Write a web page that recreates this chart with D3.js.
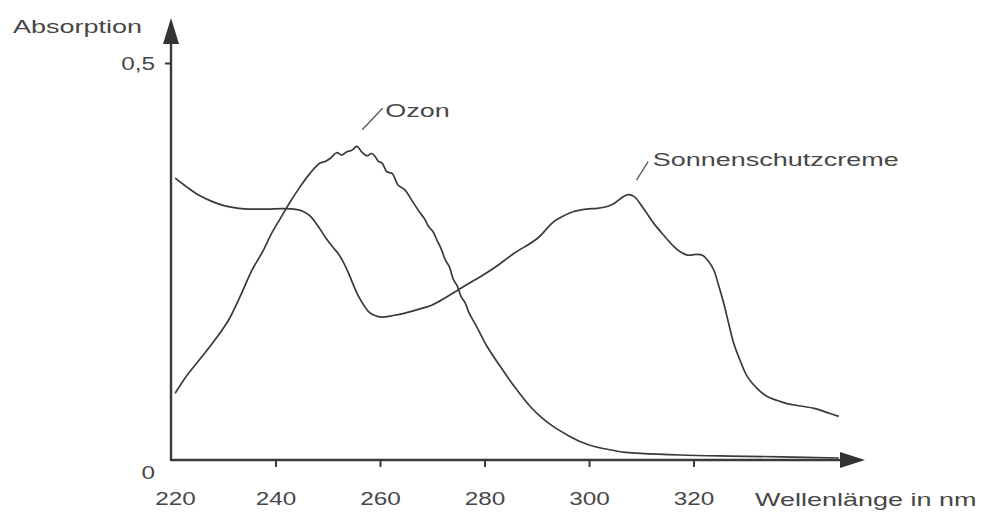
<!DOCTYPE html>
<html>
<head>
<meta charset="utf-8">
<script src="https://cdn.jsdelivr.net/npm/d3@7"></script>
<style>
  html, body { margin: 0; padding: 0; background: #fff; }
  svg { display: block; }
  text { font-family: Arial, "Liberation Sans", Helvetica, sans-serif; fill: #474747; }
</style>
</head>
<body>
<svg id="chart" width="987" height="515"></svg>
<script>
// Wavelength in nm, absorption (dimensionless)
const ozonNm = [220.8, 223, 225.9, 228.5, 231, 233.3, 235.5, 237.5, 239.3, 241, 242.8, 244.7, 246.6, 248.5, 249.5,
  250.5, 251.7, 252.7, 253.6, 254.6, 255.6, 256.5, 257.5, 258.4, 259.1, 259.7, 260.4, 261.3, 262.3, 263.5,
  264.8, 266.1, 267.7, 268.5, 269.3, 270.1, 270.9, 271.7, 272.5, 273.3, 274, 274.8, 275.5, 276.3, 277, 278.5,
  280.5, 283, 286, 288.8, 291, 293.2, 296, 298.4, 301, 303.5, 306.5, 309.8, 317.5, 327, 337, 347.8];
const ozonAbs = [0.084, 0.106, 0.130, 0.152, 0.176, 0.207, 0.239, 0.262, 0.286, 0.305, 0.325, 0.344, 0.361, 0.374, 0.376,
  0.380, 0.387, 0.384, 0.388, 0.390, 0.395, 0.388, 0.383, 0.386, 0.382, 0.376, 0.374, 0.363, 0.361, 0.346,
  0.340, 0.327, 0.311, 0.304, 0.294, 0.288, 0.277, 0.266, 0.252, 0.243, 0.228, 0.219, 0.206, 0.198, 0.186, 0.168,
  0.143, 0.118, 0.090, 0.067, 0.053, 0.042, 0.031, 0.023, 0.017, 0.0135, 0.010, 0.0084, 0.0063, 0.005, 0.004, 0.0025];

const cremeNm = [220.8, 223, 225.2, 227.7, 230.3, 233, 235.5, 238.5, 241.2, 243.5, 245, 246.5, 248, 249.5, 251,
  252, 253, 254, 255, 255.9, 256.9, 257.8, 259, 260.4, 262.5, 264.8, 267.5, 269.9, 272.2, 274.4,
  276.4, 278.2, 280.2, 282.1, 285.6, 290.1, 293.2, 295, 297.1, 299.5, 301.6, 303.3, 304.8, 306.2, 307.3,
  308.6, 310.5, 312.4, 314.3, 316.2, 317.5, 318.8, 320.5, 321.7, 322.9, 323.9, 324.8, 325.8, 326.8, 327.7,
  329, 330.3, 332.2, 334.1, 336, 337.9, 340.5, 343.1, 345.5, 347.8];
const cremeAbs = [0.355, 0.344, 0.334, 0.326, 0.320, 0.317, 0.316, 0.316, 0.3165, 0.316, 0.314, 0.308, 0.296, 0.281, 0.268,
  0.260, 0.249, 0.235, 0.219, 0.206, 0.195, 0.187, 0.182, 0.180, 0.182, 0.185, 0.190, 0.195, 0.203, 0.212,
  0.220, 0.227, 0.235, 0.243, 0.260, 0.279, 0.300, 0.307, 0.313, 0.316, 0.317, 0.319, 0.323, 0.330, 0.334,
  0.332, 0.316, 0.298, 0.283, 0.269, 0.262, 0.258, 0.259, 0.258, 0.250, 0.239, 0.220, 0.197, 0.170, 0.147,
  0.124, 0.105, 0.090, 0.080, 0.075, 0.071, 0.068, 0.065, 0.060, 0.055];

const xTicks = [220, 240, 260, 280, 300, 320];
const yTicks = [0, 0.5];

const yTitle = "Absorption";
const xTitle = "Wellenlänge in nm";
const seriesLabels = ["Ozon", "Sonnenschutzcreme"];

// ---------------------------------------------------------------
const svg = d3.select("#chart");
const ink = "#3a3a3a";
const textScaleX = 1.42;   // wide lettering
const numScaleX = 1.28;

const x = d3.scaleLinear().domain([220, 320]).range([171, 693.5]);
const y = d3.scaleLinear().domain([0, 0.5]).range([460, 63]);

const de = d3.formatLocale({ decimal: ",", thousands: ".", grouping: [3], currency: ["", " €"] });
const fmt = de.format("~g");

// Axes lines with arrowheads
const x0 = x(220), y0 = y(0);
const xEnd = 865, yEnd = 18;
svg.append("line").attr("x1", x0).attr("y1", y0).attr("x2", xEnd - 22).attr("y2", y0)
  .attr("stroke", ink).attr("stroke-width", 2.6);
svg.append("line").attr("x1", x0).attr("y1", y0 + 1).attr("x2", x0).attr("y2", yEnd + 22)
  .attr("stroke", ink).attr("stroke-width", 2.4);
svg.append("path")
  .attr("d", `M${xEnd},${y0} L${xEnd - 25},${y0 - 8} L${xEnd - 25},${y0 + 8} Z`)
  .attr("fill", "#333");
svg.append("path")
  .attr("d", `M${x0},${yEnd} L${x0 - 8},${yEnd + 26} L${x0 + 8},${yEnd + 26} Z`)
  .attr("fill", "#333");

// X axis ticks and labels
const gx = svg.append("g").attr("transform", `translate(0,${y0})`)
  .call(d3.axisBottom(x).tickValues(xTicks).tickSize(7).tickFormat(d3.format("d")));
gx.select(".domain").remove();
gx.selectAll(".tick line").attr("stroke", ink).attr("stroke-width", 2)
  .attr("display", d => d === 220 ? "none" : null);
gx.selectAll(".tick text")
  .attr("y", 45).attr("dy", 0)
  .attr("transform", `scale(${numScaleX},1)`)
  .attr("x", d => d === 220 ? 4 / numScaleX : 0)
  .style("font-size", "19px").style("fill", "#474747");

// Y axis ticks and labels
const gy = svg.append("g").attr("transform", `translate(${x0},0)`)
  .call(d3.axisLeft(y).tickValues(yTicks).tickSize(6).tickFormat(fmt));
gy.select(".domain").remove();
gy.selectAll(".tick line").attr("stroke", ink).attr("stroke-width", 2)
  .attr("display", d => d === 0 ? "none" : null);
gy.selectAll(".tick text")
  .attr("x", -16 / numScaleX)
  .attr("dy", d => d === 0 ? "0.95em" : "0.36em")
  .attr("transform", `scale(${numScaleX},1)`)
  .style("font-size", "19px").style("fill", "#474747");

// Axis titles
function wideText(px, py, str, anchor) {
  svg.append("g").attr("transform", `translate(${px},${py})`)
    .append("text")
    .attr("transform", `scale(${textScaleX},1)`)
    .attr("text-anchor", anchor || "start")
    .style("font-size", "19px")
    .text(str);
}
wideText(13, 33, yTitle);
wideText(755, 506, xTitle);

// Curves
const line = d3.line().x(d => x(d[0])).y(d => y(d[1]));
const ozon = ozonNm.map((n, i) => [n, ozonAbs[i]]);
const creme = cremeNm.map((n, i) => [n, cremeAbs[i]]);

svg.append("path").datum(ozon)
  .attr("d", line.curve(d3.curveCatmullRom.alpha(0.5)))
  .attr("fill", "none").attr("stroke", ink).attr("stroke-width", 1.7)
  .attr("stroke-linejoin", "round");
svg.append("path").datum(creme)
  .attr("d", line.curve(d3.curveCatmullRom.alpha(0.5)))
  .attr("fill", "none").attr("stroke", ink).attr("stroke-width", 1.7)
  .attr("stroke-linejoin", "round");

// Series labels with leader lines
const notes = [
  { text: seriesLabels[0], from: [256.6, 0.416], to: [260.5, 0.443], at: [261.0, 0.432] },
  { text: seriesLabels[1], from: [309.1, 0.3526], to: [311.3, 0.3757], at: [312.2, 0.370] }
];
notes.forEach(n => {
  svg.append("line")
    .attr("x1", x(n.from[0])).attr("y1", y(n.from[1]))
    .attr("x2", x(n.to[0])).attr("y2", y(n.to[1]))
    .attr("stroke", "#555").attr("stroke-width", 1.3);
  wideText(x(n.at[0]), y(n.at[1]), n.text);
});
</script>
</body>
</html>
